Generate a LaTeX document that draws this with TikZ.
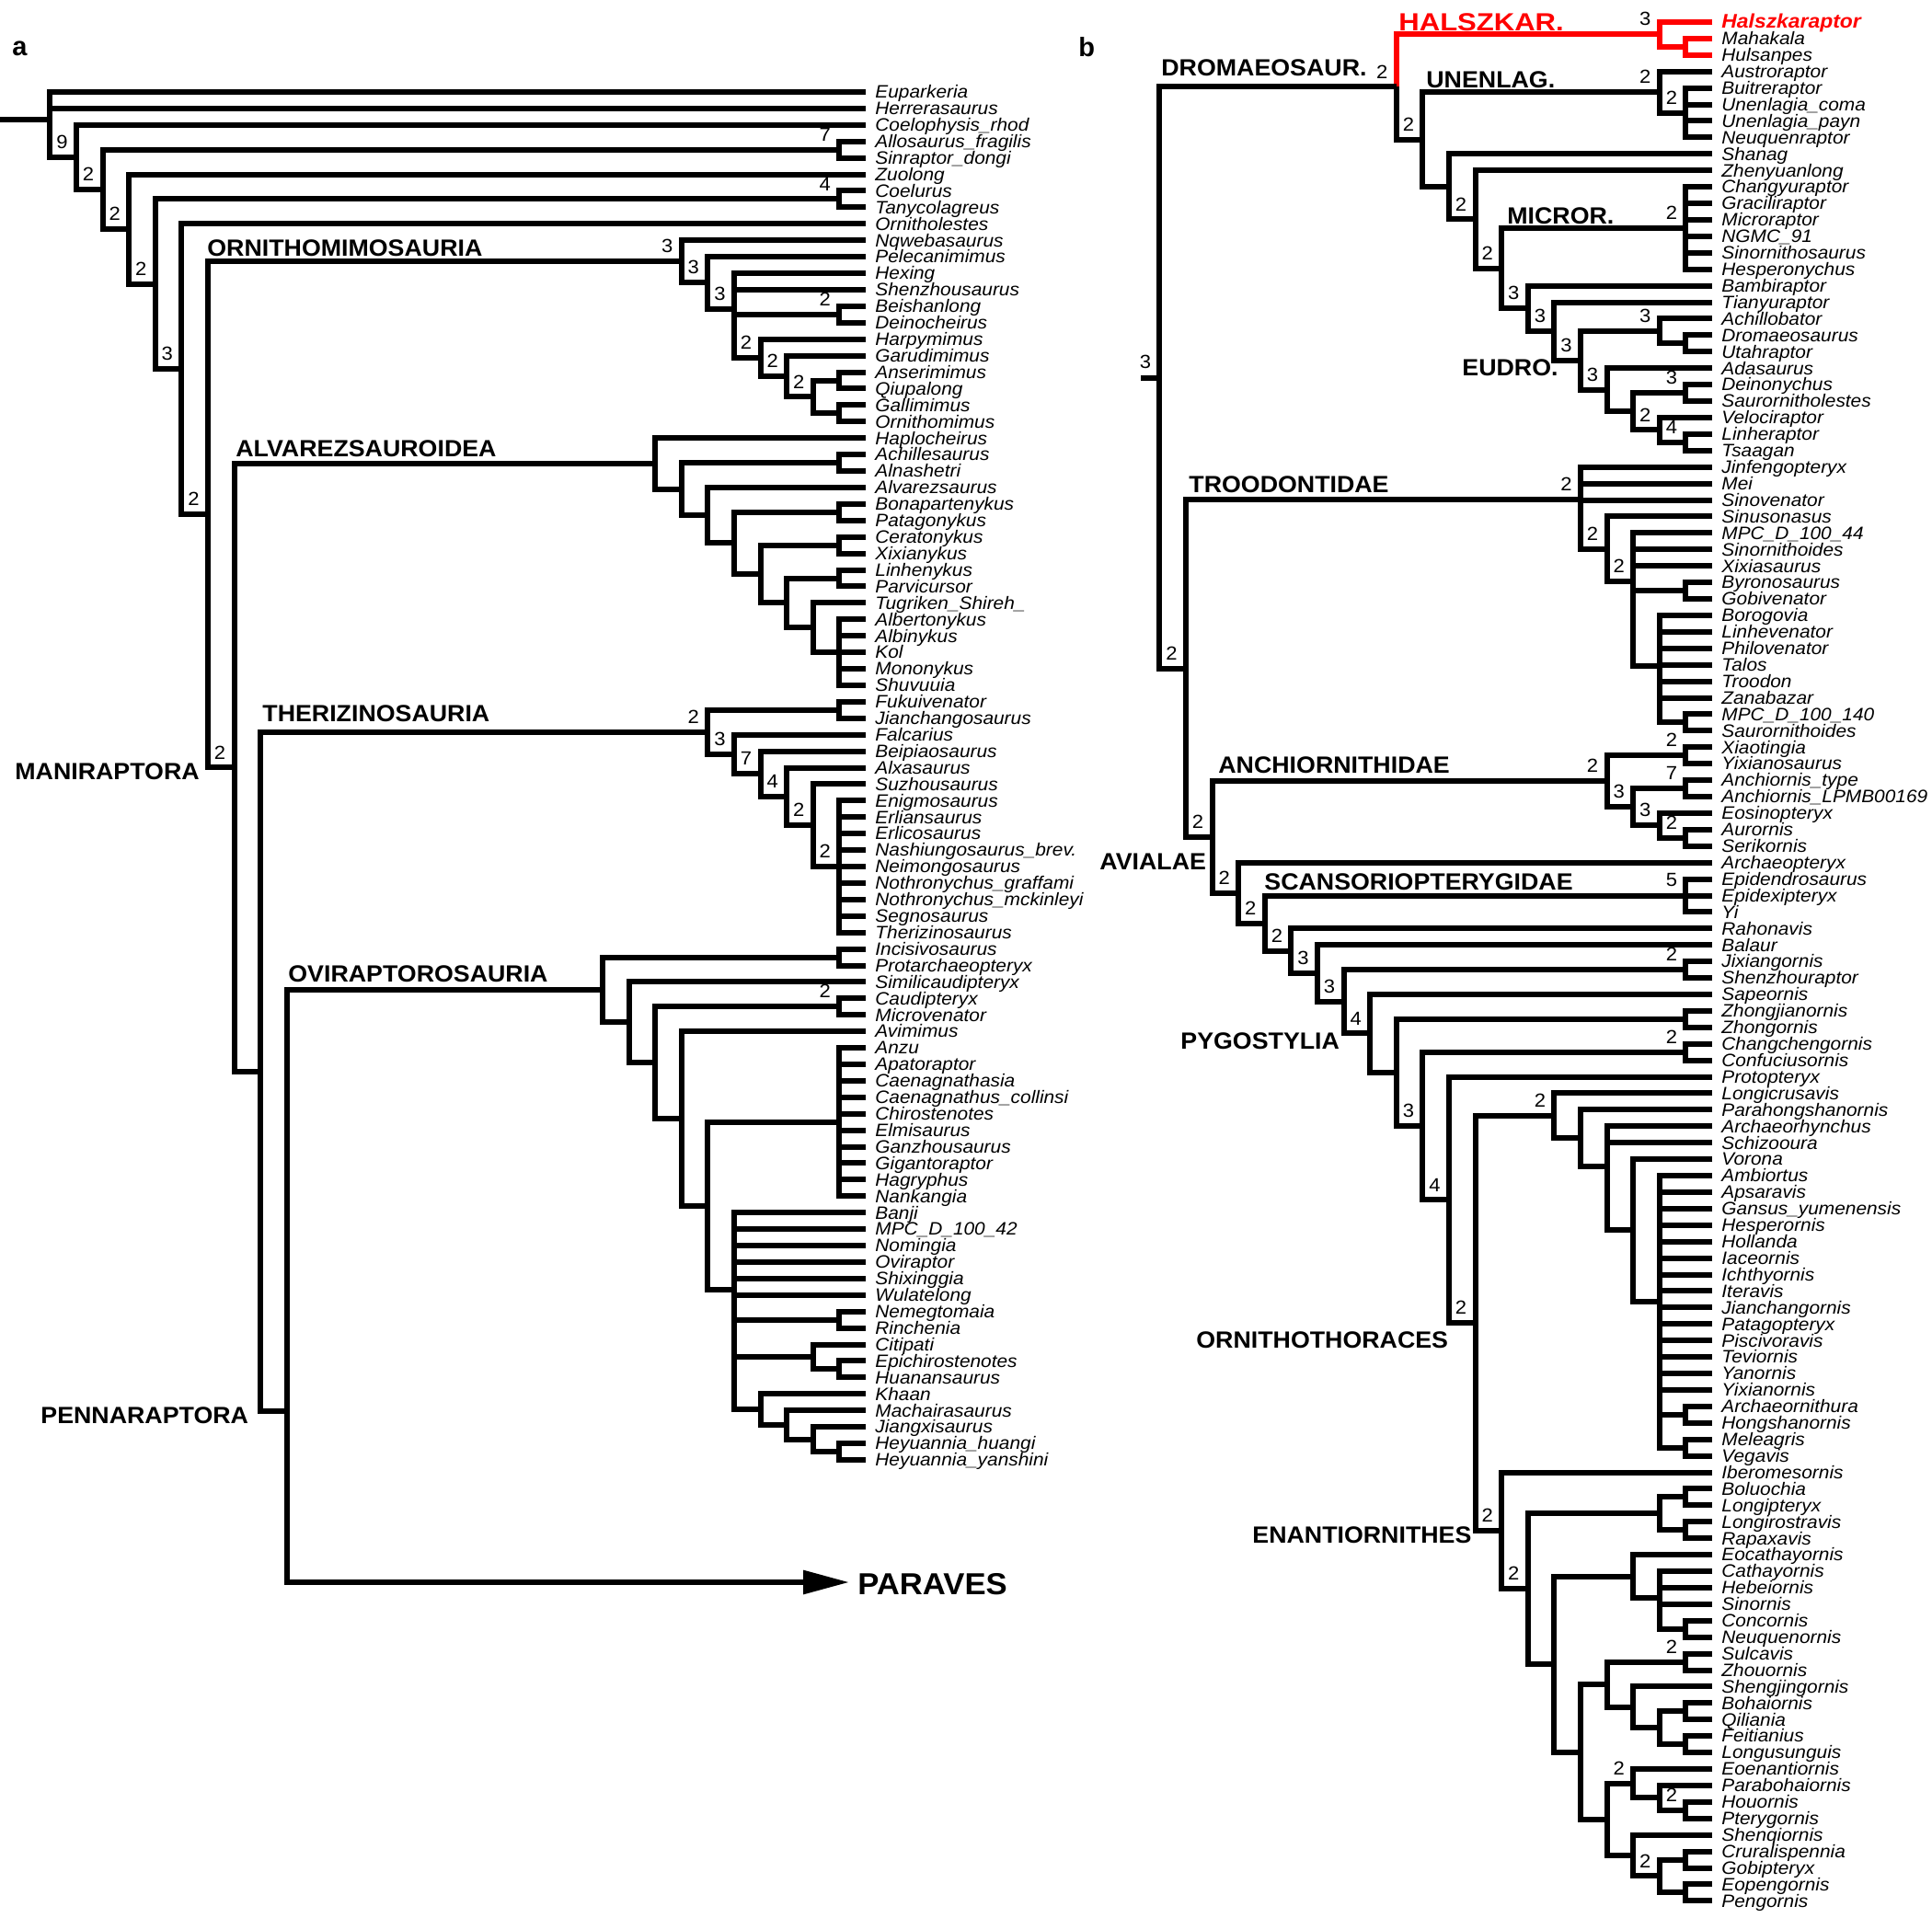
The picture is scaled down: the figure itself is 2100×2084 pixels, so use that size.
\documentclass[tikz,border=0pt]{standalone}
\usepackage{fontspec}
\setmainfont{Liberation Sans}
\newfontfamily\leaffont[FakeStretch=1.07]{Liberation Sans}
\newfontfamily\cladefont[FakeStretch=1.05]{Liberation Sans}
\newfontfamily\halfont[FakeStretch=1.15]{Liberation Sans}
\usetikzlibrary{arrows.meta}

\newcount\lfc
\let\fixy\relax
\def\xtip{941}\def\ybase{100}
\newcommand\lf[3][]{%
  \global\advance\lfc by 1\relax
  \pgfmathsetmacro\lfy{\ybase+(\the\lfc-1)*17.915}%
  \expandafter\xdef\csname ny@#2\endcsname{\lfy}%
  \expandafter\xdef\csname nh@#2\endcsname{0}%
  \coordinate (#2) at (\xtip,\lfy);
  \node[leaf,#1] (#2-t) at (\xtip+10,\lfy+6.8) {#3};%
}
\newcommand\cl[4][]{%
  \gdef\clsum{0}\gdef\cln{0}\gdef\clh{0}%
  \foreach \kid in {#3}{%
    \pgfmathsetmacro\tmpa{\clsum+\csname ny@\kid\endcsname/20}\xdef\clsum{\tmpa}%
    \pgfmathsetmacro\tmpb{\cln+1}\xdef\cln{\tmpb}%
    \pgfmathsetmacro\tmpc{max(\clh,\csname nh@\kid\endcsname+1)}\xdef\clh{\tmpc}%
  }%
  \ifx\fixy\relax\pgfmathsetmacro\cly{\clsum/\cln*20}\else\edef\cly{\fixy}\fi
  \pgfmathsetmacro\clx{\xtip-28.6*\clh}%
  \expandafter\xdef\csname ny@#2\endcsname{\cly}%
  \expandafter\xdef\csname nh@#2\endcsname{\clh}%
  \coordinate (#2) at (\clx,\cly);
  \foreach \kid in {#3}{\edef\tmpd{\noexpand\draw[br,#1,conn \kid/.try] (\kid) -| (#2);}\tmpd}%
  \if\relax\detokenize{#4}\relax\else
    \node[sup] (#2-s) at (\clx-9,\cly-9) {#4};%
  \fi
}

\tikzset{
  br/.style={line width=3pt},
  leaf/.style={anchor=base west,inner sep=0pt,font=\leaffont\itshape\fontsize{9.75}{11}\selectfont},
  sup/.style={anchor=south east,inner sep=0pt,font=\leaffont\fontsize{10.3}{12}\selectfont},
  clab/.style={anchor=base west,inner sep=0pt,font=\cladefont\bfseries\fontsize{12.75}{14}\selectfont},
  conn rH1/.style={red},
  conn PV/.style={arrows={Triangle[length=25pt,width=12.5pt]-}},
}

\begin{document}
\begin{tikzpicture}[x=0.5pt,y=-0.5pt]
\fill[white] (0,0) rectangle (2100,2084);
\useasboundingbox (0,0) rectangle (2100,2084);

\node[anchor=base west,inner sep=0pt,font=\bfseries\fontsize{14.5}{16}\selectfont] (pa) at (13,60) {a};
\node[anchor=base west,inner sep=0pt,font=\bfseries\fontsize{14.5}{16}\selectfont] (pb) at (1172,61) {b};

% ================= LEFT PANEL =================
\def\xtip{941}\def\ybase{100}\global\lfc=0
\lf{Eup}{Euparkeria}
\lf{Herr}{Herrerasaurus}
\lf{Coel}{Coelophysis\_rhod}
\lf{Allo}{Allosaurus\_fragilis}
\lf{Sinr}{Sinraptor\_dongi}
\lf{Zuol}{Zuolong}
\lf{Coelu}{Coelurus}
\lf{Tany}{Tanycolagreus}
\lf{Ornl}{Ornitholestes}
\lf{Nqwe}{Nqwebasaurus}
\lf{Pele}{Pelecanimimus}
\lf{Hexi}{Hexing}
\lf{Shen}{Shenzhousaurus}
\lf{Beis}{Beishanlong}
\lf{Dein}{Deinocheirus}
\lf{Harp}{Harpymimus}
\lf{Garu}{Garudimimus}
\lf{Anse}{Anserimimus}
\lf{Qiup}{Qiupalong}
\lf{Gall}{Gallimimus}
\lf{Ornm}{Ornithomimus}
\lf{Hapl}{Haplocheirus}
\lf{Achs}{Achillesaurus}
\lf{Alna}{Alnashetri}
\lf{Alva}{Alvarezsaurus}
\lf{Bona}{Bonapartenykus}
\lf{Pata}{Patagonykus}
\lf{Cera}{Ceratonykus}
\lf{Xixy}{Xixianykus}
\lf{Linh}{Linhenykus}
\lf{Parv}{Parvicursor}
\lf{Tugr}{Tugriken\_Shireh\_}
\lf{Albe}{Albertonykus}
\lf{Albi}{Albinykus}
\lf{Kol}{Kol}
\lf{Mono}{Mononykus}
\lf{Shuv}{Shuvuuia}
\lf{Fuku}{Fukuivenator}
\lf{Jian}{Jianchangosaurus}
\lf{Falc}{Falcarius}
\lf{Beip}{Beipiaosaurus}
\lf{Alxa}{Alxasaurus}
\lf{Suzh}{Suzhousaurus}
\lf{Enig}{Enigmosaurus}
\lf{Erli}{Erliansaurus}
\lf{Erlc}{Erlicosaurus}
\lf{Nash}{Nashiungosaurus\_brev.}
\lf{Neim}{Neimongosaurus}
\lf{NotG}{Nothronychus\_graffami}
\lf{NotM}{Nothronychus\_mckinleyi}
\lf{Segn}{Segnosaurus}
\lf{Ther}{Therizinosaurus}
\lf{Inci}{Incisivosaurus}
\lf{Prot}{Protarchaeopteryx}
\lf{Simi}{Similicaudipteryx}
\lf{Caud}{Caudipteryx}
\lf{Micv}{Microvenator}
\lf{Avim}{Avimimus}
\lf{Anzu}{Anzu}
\lf{Apat}{Apatoraptor}
\lf{Caea}{Caenagnathasia}
\lf{Caec}{Caenagnathus\_collinsi}
\lf{Chir}{Chirostenotes}
\lf{Elmi}{Elmisaurus}
\lf{Ganz}{Ganzhousaurus}
\lf{Giga}{Gigantoraptor}
\lf{Hagr}{Hagryphus}
\lf{Nank}{Nankangia}
\lf{Banj}{Banji}
\lf{MPCa}{MPC\_D\_100\_42}
\lf{Nomi}{Nomingia}
\lf{Ovir}{Oviraptor}
\lf{Shix}{Shixinggia}
\lf{Wula}{Wulatelong}
\lf{Neme}{Nemegtomaia}
\lf{Rinc}{Rinchenia}
\lf{Citi}{Citipati}
\lf{Epic}{Epichirostenotes}
\lf{Huan}{Huanansaurus}
\lf{Khaa}{Khaan}
\lf{Mach}{Machairasaurus}
\lf{Jiax}{Jiangxisaurus}
\lf{HeyH}{Heyuannia\_huangi}
\lf{HeyY}{Heyuannia\_yanshini}

\cl{pAS}{Allo,Sinr}{7}
\cl{pCT}{Coelu,Tany}{4}
% Ornithomimosauria
\cl{pAQ}{Anse,Qiup}{}
\cl{pGO}{Gall,Ornm}{}
\cl{M6}{pAQ,pGO}{2}
\cl{M5}{Garu,M6}{2}
\cl{M4}{Harp,M5}{2}
\cl{pBD}{Beis,Dein}{2}
\cl{M3}{Hexi,Shen,pBD,M4}{3}
\cl{M2}{Pele,M3}{3}
\cl{M1}{Nqwe,M2}{3}
% Alvarezsauroidea
\cl{A8}{Albe,Albi,Kol,Mono,Shuv}{}
\cl{A7}{Tugr,A8}{}
\cl{pLP}{Linh,Parv}{}
\cl{A6}{pLP,A7}{}
\cl{pCX}{Cera,Xixy}{}
\cl{A5}{pCX,A6}{}
\cl{pBP}{Bona,Pata}{}
\cl{A4}{pBP,A5}{}
\cl{A3}{Alva,A4}{}
\cl{pAA}{Achs,Alna}{}
\cl{A2}{pAA,A3}{}
\cl{A1}{Hapl,A2}{}
% Therizinosauria
\cl{T6}{Enig,Erli,Erlc,Nash,Neim,NotG,NotM,Segn,Ther}{2}
\cl{T5}{Suzh,T6}{2}
\cl{T4}{Alxa,T5}{4}
\cl{T3}{Beip,T4}{7}
\cl{T2}{Falc,T3}{3}
\cl{pFJ}{Fuku,Jian}{}
\cl{T1}{pFJ,T2}{2}
% Oviraptorosauria
\cl{pHH}{HeyH,HeyY}{}
\cl{KJ}{Jiax,pHH}{}
\cl{KM}{Mach,KJ}{}
\cl{KG}{Khaa,KM}{}
\cl{pEH}{Epic,Huan}{}
\cl{CG}{Citi,pEH}{}
\cl{pNR}{Neme,Rinc}{}
\cl{O6}{Banj,MPCa,Nomi,Ovir,Shix,Wula,pNR,CG,KG}{}
\cl{O5c}{Anzu,Apat,Caea,Caec,Chir,Elmi,Ganz,Giga,Hagr,Nank}{}
\cl{O5}{O5c,O6}{}
\cl{O4}{Avim,O5}{}
\cl{pCM}{Caud,Micv}{2}
\cl{O3}{pCM,O4}{}
\cl{O2}{Simi,O3}{}
\cl{pIP}{Inci,Prot}{}
\cl{O1}{pIP,O2}{}
% backbone
\coordinate (PV) at (923,1720);
\expandafter\xdef\csname ny@PV\endcsname{1720}
\expandafter\xdef\csname nh@PV\endcsname{21}
\def\fixy{1534}
\cl{Penn}{O1,PV}{}
\let\fixy\relax
\cl{Nx}{T1,Penn}{}
\cl{N2e}{A1,Nx}{2}
\cl{N2d}{M1,N2e}{2}
\cl{N3}{Ornl,N2d}{3}
\cl{N2c}{pCT,N3}{2}
\cl{N2b}{Zuol,N2c}{2}
\cl{N2a}{pAS,N2b}{2}
\cl{N9}{Coel,N2a}{9}
\cl{Root}{Eup,Herr,N9}{}
\coordinate (RootL) at (0,0);
\coordinate (RootIn) at (Root -| RootL);
\draw[br] (RootIn) -- (Root);

\node[clab] (lOrni) at (225,278) {ORNITHOMIMOSAURIA};
\node[clab] (lAlva) at (256,496) {ALVAREZSAUROIDEA};
\node[clab] (lTher) at (285,784) {THERIZINOSAURIA};
\node[clab] (lOvir) at (313,1067) {OVIRAPTOROSAURIA};
\node[clab] (lMani) at (16,847) {MANIRAPTORA};
\node[clab] (lPenn) at (44,1547) {PENNARAPTORA};
\node[clab,font=\cladefont\bfseries\fontsize{16.5}{18}\selectfont] (lPara) at (932,1733) {PARAVES};

% ================= RIGHT PANEL =================
\def\xtip{1861}\def\ybase{24}\global\lfc=0
\lf[text=red,font={\leaffont\bfseries\itshape\fontsize{10.7}{12}\selectfont}]{Halsz}{Halszkaraptor}
\lf{Maha}{Mahakala}
\lf{Huls}{Hulsanpes}
\lf{Aust}{Austroraptor}
\lf{Buit}{Buitreraptor}
\lf{UneC}{Unenlagia\_coma}
\lf{UneP}{Unenlagia\_payn}
\lf{Neuq}{Neuquenraptor}
\lf{Shan}{Shanag}
\lf{Zhen}{Zhenyuanlong}
\lf{Chan}{Changyuraptor}
\lf{Grac}{Graciliraptor}
\lf{Micr}{Microraptor}
\lf{NGMC}{NGMC\_91}
\lf{Sint}{Sinornithosaurus}
\lf{Hesp}{Hesperonychus}
\lf{Bamb}{Bambiraptor}
\lf{Tian}{Tianyuraptor}
\lf{Achb}{Achillobator}
\lf{Drom}{Dromaeosaurus}
\lf{Utah}{Utahraptor}
\lf{Adas}{Adasaurus}
\lf{Deiny}{Deinonychus}
\lf{Saul}{Saurornitholestes}
\lf{Velo}{Velociraptor}
\lf{Linr}{Linheraptor}
\lf{Tsaa}{Tsaagan}
\lf{Jinf}{Jinfengopteryx}
\lf{Mei}{Mei}
\lf{Sinv}{Sinovenator}
\lf{Sinu}{Sinusonasus}
\lf{MPCb}{MPC\_D\_100\_44}
\lf{Sinoi}{Sinornithoides}
\lf{Xixs}{Xixiasaurus}
\lf{Byro}{Byronosaurus}
\lf{Gobv}{Gobivenator}
\lf{Boro}{Borogovia}
\lf{Linv}{Linhevenator}
\lf{Phil}{Philovenator}
\lf{Talo}{Talos}
\lf{Troo}{Troodon}
\lf{Zana}{Zanabazar}
\lf{MPCc}{MPC\_D\_100\_140}
\lf{Sauo}{Saurornithoides}
\lf{Xiao}{Xiaotingia}
\lf{Yixs}{Yixianosaurus}
\lf{AncT}{Anchiornis\_type}
\lf{AncL}{Anchiornis\_LPMB00169}
\lf{Eosi}{Eosinopteryx}
\lf{Auro}{Aurornis}
\lf{Seri}{Serikornis}
\lf{Arch}{Archaeopteryx}
\lf{Epid}{Epidendrosaurus}
\lf{Epix}{Epidexipteryx}
\lf{Yi}{Yi}
\lf{Raho}{Rahonavis}
\lf{Bala}{Balaur}
\lf{Jixi}{Jixiangornis}
\lf{Shzr}{Shenzhouraptor}
\lf{Sape}{Sapeornis}
\lf{Zhoj}{Zhongjianornis}
\lf{Zhon}{Zhongornis}
\lf{Chch}{Changchengornis}
\lf{Conf}{Confuciusornis}
\lf{Prop}{Protopteryx}
\lf{Locr}{Longicrusavis}
\lf{Parh}{Parahongshanornis}
\lf{Arcr}{Archaeorhynchus}
\lf{Schi}{Schizooura}
\lf{Voro}{Vorona}
\lf{Ambi}{Ambiortus}
\lf{Apsa}{Apsaravis}
\lf{Gans}{Gansus\_yumenensis}
\lf{Hesn}{Hesperornis}
\lf{Holl}{Hollanda}
\lf{Iace}{Iaceornis}
\lf{Icht}{Ichthyornis}
\lf{Iter}{Iteravis}
\lf{Jiao}{Jianchangornis}
\lf{Patx}{Patagopteryx}
\lf{Pisc}{Piscivoravis}
\lf{Tevi}{Teviornis}
\lf{Yano}{Yanornis}
\lf{Yixo}{Yixianornis}
\lf{Arct}{Archaeornithura}
\lf{Hong}{Hongshanornis}
\lf{Mele}{Meleagris}
\lf{Vega}{Vegavis}
\lf{Iber}{Iberomesornis}
\lf{Bolu}{Boluochia}
\lf{Lonp}{Longipteryx}
\lf{Lonr}{Longirostravis}
\lf{Rapa}{Rapaxavis}
\lf{Eoca}{Eocathayornis}
\lf{Cath}{Cathayornis}
\lf{Hebe}{Hebeiornis}
\lf{Sino}{Sinornis}
\lf{Conc}{Concornis}
\lf{Neuo}{Neuquenornis}
\lf{Sulc}{Sulcavis}
\lf{Zhou}{Zhouornis}
\lf{Shej}{Shengjingornis}
\lf{Boha}{Bohaiornis}
\lf{Qili}{Qiliania}
\lf{Feit}{Feitianius}
\lf{Lonu}{Longusunguis}
\lf{Eoen}{Eoenantiornis}
\lf{Parb}{Parabohaiornis}
\lf{Houo}{Houornis}
\lf{Pter}{Pterygornis}
\lf{Sheq}{Shenqiornis}
\lf{Crur}{Cruralispennia}
\lf{Gobp}{Gobipteryx}
\lf{Eope}{Eopengornis}
\lf{Peng}{Pengornis}

% Dromaeosauridae
\cl[red]{rMH}{Maha,Huls}{}
\cl[red]{rH1}{Halsz,rMH}{3}
\cl{rU2}{Buit,UneC,UneP,Neuq}{2}
\cl{rU1}{Aust,rU2}{2}
\cl{rMI}{Chan,Grac,Micr,NGMC,Sint,Hesp}{2}
\cl{rLT}{Linr,Tsaa}{4}
\cl{rD11}{Velo,rLT}{2}
\cl{rDS}{Deiny,Saul}{3}
\cl{rD10}{rDS,rD11}{}
\cl{rD9}{Adas,rD10}{3}
\cl{rDU}{Drom,Utah}{}
\cl{rAD}{Achb,rDU}{3}
\cl{rD8}{rAD,rD9}{3}
\cl{rD7}{Tian,rD8}{3}
\cl{rD6}{Bamb,rD7}{3}
\cl{rD5}{rMI,rD6}{2}
\cl{rD4}{Zhen,rD5}{2}
\cl{rD3}{Shan,rD4}{}
\cl{rD2}{rU1,rD3}{2}
\cl{rD1}{rH1,rD2}{2}
% Troodontidae
\cl{rMS}{MPCc,Sauo}{}
\cl{rTR4}{Boro,Linv,Phil,Talo,Troo,Zana,rMS}{}
\cl{rBG}{Byro,Gobv}{}
\cl{rTR3}{MPCb,Sinoi,Xixs,rBG,rTR4}{2}
\cl{rTR2}{Sinu,rTR3}{2}
\cl{rTR1}{Jinf,Mei,Sinv,rTR2}{2}
% Anchiornithidae
\cl{rXY}{Xiao,Yixs}{2}
\cl{rAA}{AncT,AncL}{7}
\cl{rAS}{Auro,Seri}{2}
\cl{rAN3}{Eosi,rAS}{3}
\cl{rAN2}{rAA,rAN3}{3}
\cl{rAN1}{rXY,rAN2}{2}
% Scansoriopterygidae
\cl{rSC}{Epid,Epix,Yi}{5}
% birds
\cl{rJS}{Jixi,Shzr}{2}
\cl{rZZ}{Zhoj,Zhon}{}
\cl{rCC}{Chch,Conf}{2}
\cl{rAH}{Arct,Hong}{}
\cl{rMV}{Mele,Vega}{}
\cl{rOR5}{Ambi,Apsa,Gans,Hesn,Holl,Iace,Icht,Iter,Jiao,Patx,Pisc,Tevi,Yano,Yixo,rAH,rMV}{}
\cl{rOR4}{Voro,rOR5}{}
\cl{rOR3}{Arcr,Schi,rOR4}{}
\cl{rOR2}{Parh,rOR3}{}
\cl{rOR1}{Locr,rOR2}{2}
\cl{rBL}{Bolu,Lonp}{}
\cl{rLR}{Lonr,Rapa}{}
\cl{rLG}{rBL,rLR}{}
\cl{rCN}{Conc,Neuo}{}
\cl{rCA2}{Cath,Hebe,Sino,rCN}{}
\cl{rCA}{Eoca,rCA2}{}
\cl{rSZ}{Sulc,Zhou}{2}
\cl{rBQ}{Boha,Qili}{}
\cl{rFL}{Feit,Lonu}{}
\cl{rBO3}{rBQ,rFL}{}
\cl{rBO2}{Shej,rBO3}{}
\cl{rBO}{rSZ,rBO2}{}
\cl{rHP}{Houo,Pter}{2}
\cl{rPE1b}{Parb,rHP}{}
\cl{rPE1}{Eoen,rPE1b}{2}
\cl{rCG}{Crur,Gobp}{}
\cl{rEP}{Eope,Peng}{}
\cl{rPE2b}{rCG,rEP}{2}
\cl{rPE2}{Sheq,rPE2b}{}
\cl{rPE}{rPE1,rPE2}{}
\cl{rEN4}{rBO,rPE}{}
\cl{rEN3}{rCA,rEN4}{}
\cl{rEN2}{rLG,rEN3}{2}
\cl{rEN1}{Iber,rEN2}{2}
\cl{rOT}{rOR1,rEN1}{2}
\cl{rZ2}{Prop,rOT}{4}
\cl{rZ}{rCC,rZ2}{3}
\cl{rY}{rZZ,rZ}{}
\cl{rX}{Sape,rY}{4}
\cl{rW}{rJS,rX}{3}
\cl{rV}{Bala,rW}{3}
\cl{rU}{Raho,rV}{2}
\cl{rT}{rSC,rU}{2}
\cl{rS}{Arch,rT}{2}
\cl{rR}{rAN1,rS}{2}
\cl{rQ}{rTR1,rR}{2}
\cl{rP}{rD1,rQ}{3}
\coordinate (rPL) at (1240,0);
\coordinate (rPin) at (rP -| rPL);
\draw[br] (rPin) -- (rP);

\node[clab,text=red,font=\halfont\bfseries\fontsize{13.5}{15}\selectfont] (lHals) at (1520,33) {HALSZKAR.};
\node[clab] (lDrom) at (1262,82) {DROMAEOSAUR.};
\node[clab] (lUnen) at (1550,95) {UNENLAG.};
\node[clab] (lMicr) at (1638,243) {MICROR.};
\node[clab] (lEudr) at (1589,408) {EUDRO.};
\node[clab] (lTroo) at (1292,535) {TROODONTIDAE};
\node[clab] (lAnch) at (1324,840) {ANCHIORNITHIDAE};
\node[clab] (lAvia) at (1195,945) {AVIALAE};
\node[clab] (lScan) at (1374,967) {SCANSORIOPTERYGIDAE};
\node[clab] (lPygo) at (1283,1140) {PYGOSTYLIA};
\node[clab] (lOrnt) at (1300,1465) {ORNITHOTHORACES};
\node[clab] (lEnan) at (1361,1677) {ENANTIORNITHES};
\end{tikzpicture}
\end{document}
